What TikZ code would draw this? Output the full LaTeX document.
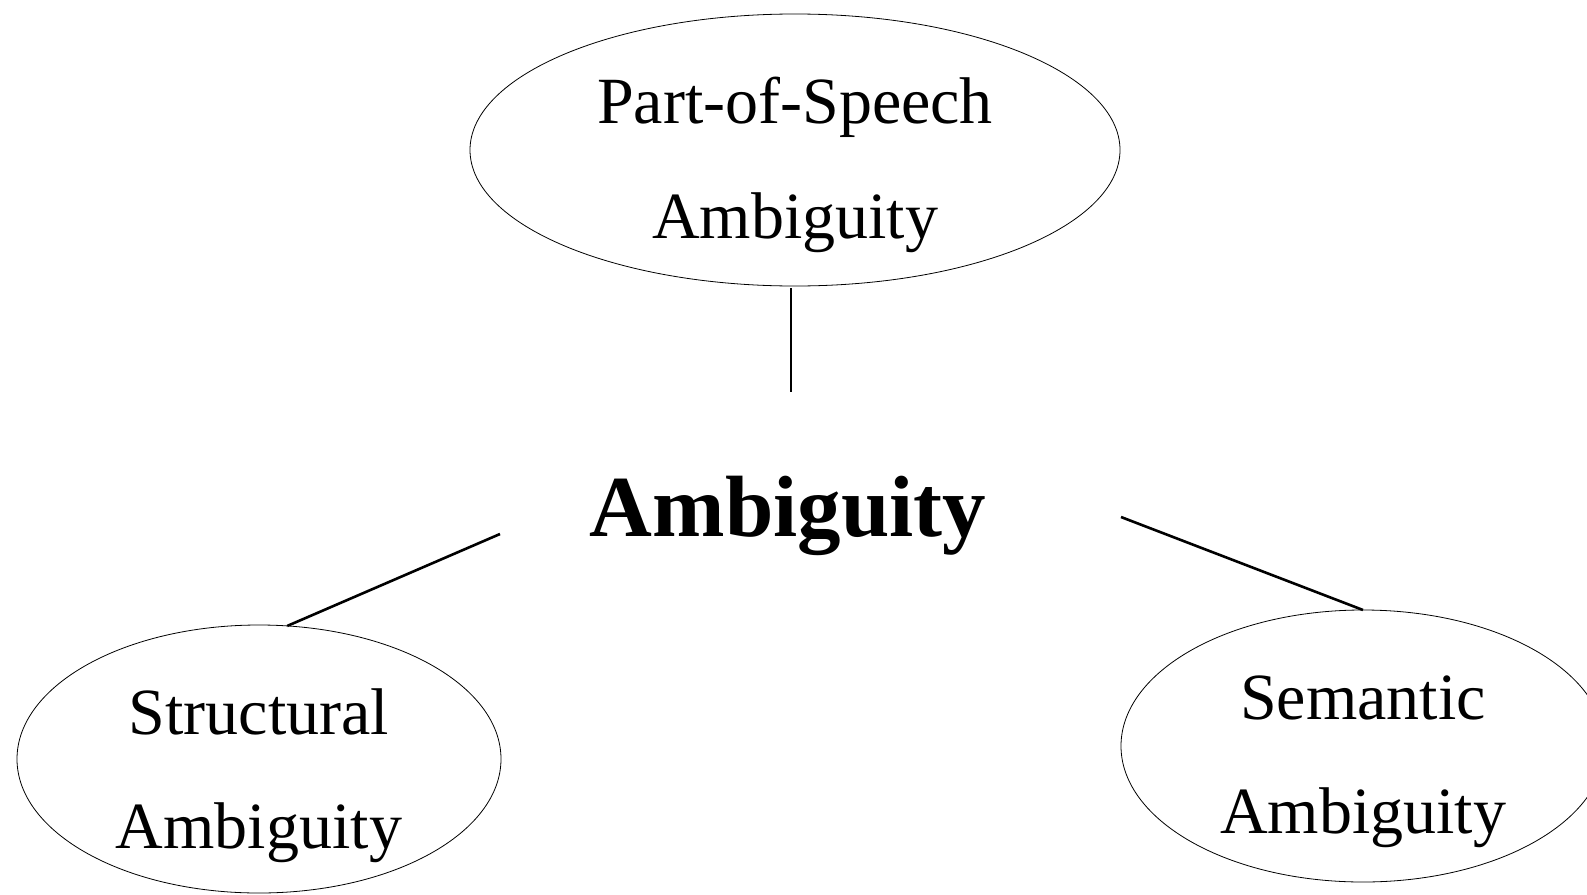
\documentclass[tikz,border=0pt]{standalone}
\usepackage{fontspec}
\setmainfont{Liberation Serif}
\usetikzlibrary{shapes.geometric}
\tikzset{
  oval/.style={draw=black, line width=0.8pt, ellipse, inner sep=0pt, outer sep=0pt},
  lbl/.style={anchor=base, inner sep=0pt, font=\fontsize{66}{66}\selectfont},
  mainlbl/.style={anchor=base, inner sep=0pt, font=\fontsize{87}{87}\selectfont\bfseries},
  link/.style={draw=black, line width=2.6pt}
}
\begin{document}
\begin{tikzpicture}[x=1pt,y=-1pt]
\useasboundingbox (0,0) rectangle (1587,894);
% ellipses
\node[oval, minimum width=650pt, minimum height=272pt] (pos) at (795,150) {};
\node[oval, minimum width=484pt, minimum height=268pt] (struct) at (259,759) {};
\node[oval, minimum width=484pt, minimum height=272pt] (sem) at (1363,746) {};
% texts
\node[lbl] (posA) at (795,123.5) {Part-of-Speech};
\node[lbl] (posB) at (795,238) {Ambiguity};
\node[mainlbl] (amb) at (788,536) {Ambiguity};
\node[lbl] (structA) at (259,734) {Structural};
\node[lbl] (structB) at (259,848) {Ambiguity};
\node[lbl] (semA) at (1363,719) {Semantic};
\node[lbl] (semB) at (1363,833) {Ambiguity};
% free ends of connectors
\coordinate (cTop) at (791,392);
\coordinate (cLeft) at (500,534);
\coordinate (cRight) at (1121,517);
% connectors
\draw[link] ([yshift=-2pt]cTop |- pos.south) -- (cTop);
\draw[link] (cLeft) -- (struct.78);
\draw[link] (cRight) -- (sem.north);
\end{tikzpicture}
\end{document}
